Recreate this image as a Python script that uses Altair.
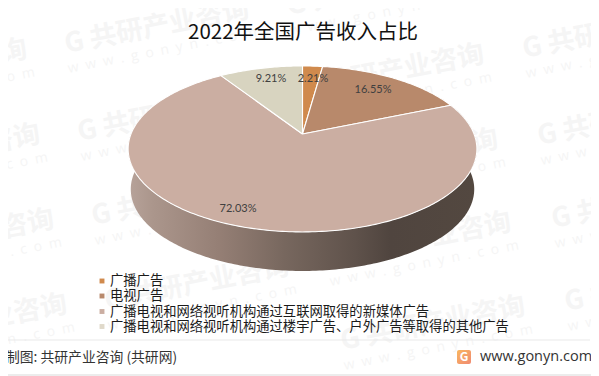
import math
import altair as alt
import pandas as pd

# ---- data ----
categories = ["广播广告", "电视广告",
              "广播电视和网络视听机构通过互联网取得的新媒体广告",
              "广播电视和网络视听机构通过楼宇广告、户外广告等取得的其他广告"]
shares = [2.21, 16.55, 72.03, 9.21]
share_labels = ["2.21%", "16.55%", "72.03%", "9.21%"]
title_text = "2022年全国广告收入占比"
source_text = "制图: 共研产业咨询 (共研网)"
site_text = "www.gonyn.com"
wm_main = "G 共研产业咨询"
wm_sub = "\u2002".join("www.gonyn.com")
slice_colors = ["#d08a4d", "#b8896b", "#cbaea2", "#d8d4c0"]
legend_colors = ["#d08a4d", "#b8896b", "#cbaea2", "#e0d9ca"]

# ---- layout (reference pixels, mapped by the x / y scales) ----
CX, CY, A, B, K = 302.5, 134.0, 171.5, 80.3, 0.18
LOW_S, LOW_CY = 0.985, 174.5
X = alt.Scale(domain=[8, 591], range=[0, 583])
Y = alt.Scale(domain=[376, 8], range=[368, 0])
x_enc = alt.X("x:Q", scale=X, axis=None)
y_enc = alt.Y("y:Q", scale=Y, axis=None)


def project(theta, s=1.0, cy=CY):
    px, py = math.sin(theta), math.cos(theta)
    d = 1 + K * py
    return CX + s * A * px / d, cy - s * B * py / d


def polygon(points):
    pts = list(points) + [points[0]]
    return pd.DataFrame({"x": [p[0] for p in pts], "y": [p[1] for p in pts],
                         "i": list(range(len(pts)))})


def filled(points, **mark):
    return alt.Chart(polygon(points)).mark_line(**mark).encode(
        x=x_enc, y=y_enc, order="i:Q")


def text_layer(rows, **mark):
    return alt.Chart(pd.DataFrame(rows)).mark_text(**mark).encode(
        x=x_enc, y=y_enc, text="t:N")


FONT = "Noto Sans CJK SC"

# watermark
wm_cols = [[(-157, 85), (-144, 170), (-130, 255), (-117, 340)],
           [(65, 45), (78, 133), (92, 217), (105, 302)],
           [(287, 7), (300, 90), (314, 175), (327, 258), (341, 342)],
           [(523, 50), (538, 137), (552, 220), (565, 303)]]
wm_rows, wm_sub_rows = [], []
for col in wm_cols:
    for gx, gy in col:
        wm_rows.append({"x": gx, "y": gy, "t": wm_main})
        wm_sub_rows.append({"x": gx + 3, "y": gy + 24, "t": wm_sub})
watermark = text_layer(wm_rows, font=FONT, fontSize=27, fontWeight="bold",
                       color="#f5f5f5", align="left", baseline="middle", angle=349)
watermark_sub = text_layer(wm_sub_rows, font="Open Sans", fontSize=14,
                           color="#f5f5f5", align="left", baseline="middle", angle=349)

# side wall
N = 240
lo, hi = math.radians(68), math.radians(292)
angles = [lo + (hi - lo) * i / N for i in range(N + 1)]
wall_pts = [project(t) for t in angles] + [project(t, LOW_S, LOW_CY) for t in reversed(angles)]
wall_fill = alt.Gradient(gradient="linear", x1=0, x2=1, y1=0, y2=0, stops=[
    alt.GradientStop(offset=0, color="#b7a39a"),
    alt.GradientStop(offset=0.07, color="#ab968c"),
    alt.GradientStop(offset=0.26, color="#957f75"),
    alt.GradientStop(offset=0.45, color="#77675e"),
    alt.GradientStop(offset=0.65, color="#5f524b"),
    alt.GradientStop(offset=0.75, color="#50453f"),
    alt.GradientStop(offset=1, color="#534840")])
wall = filled(wall_pts, fill=wall_fill, strokeWidth=0)

# top surface slices
total = sum(shares)
slices = []
start = 0.0
for val, col in zip(shares, slice_colors):
    end = start + val / total * 2 * math.pi
    n = max(4, int(val * 4))
    arc = [project(start + (end - start) * i / n) for i in range(n + 1)]
    slices.append(filled([(CX, CY)] + arc, fill=col, stroke="#ffffff", strokeWidth=1.1))
    start = end

# data labels
label_pos = [(313, 79), (373, 90), (238, 209), (271, 79)]
labels = text_layer([{"x": p[0], "y": p[1], "t": t} for p, t in zip(label_pos, share_labels)],
                    font="Lato", fontSize=11, color="#404040", align="center", baseline="middle")

# title
title = text_layer([{"x": 303, "y": 33, "t": title_text}], font=FONT, fontSize=20.5,
                   color="#111111", align="center", baseline="middle")

# legend
legend_y = [281, 296, 311.5, 326.5]
leg_df = pd.DataFrame({"x": [102] * 4, "y": legend_y, "c": categories, "col": legend_colors})
legend_marks = alt.Chart(leg_df).mark_point(shape="square", filled=True, size=24, opacity=1).encode(
    x=x_enc, y=y_enc, color=alt.Color("col:N", scale=None))
legend_text = text_layer([{"x": 110, "y": y, "t": c} for y, c in zip(legend_y, categories)],
                         font=FONT, fontSize=13.3, color="#1a1a1a", align="left", baseline="middle")

# footer
rule_df = pd.DataFrame({"x": [8, 0], "x2": [590, 599], "y": [340, 375], "col": ["#e9e9e9", "#d9d9d9"]})
rules = alt.Chart(rule_df).mark_rule(strokeWidth=1).encode(
    x=x_enc, x2="x2:Q", y=y_enc, color=alt.Color("col:N", scale=None))
source = text_layer([{"x": 6, "y": 358, "t": source_text}], font=FONT, fontSize=13.8,
                    color="#333333", align="left", baseline="middle")
site = text_layer([{"x": 480, "y": 357, "t": site_text}], font="Open Sans", fontSize=14.5,
                  color="#333333", align="left", baseline="middle")
logo_fill = alt.Gradient(gradient="linear", x1=0, x2=1, y1=0, y2=1, stops=[
    alt.GradientStop(offset=0, color="#f9b65f"),
    alt.GradientStop(offset=1, color="#f08a72")])
logo = alt.Chart(pd.DataFrame({"x": [457], "x2": [471], "y": [350], "y2": [364]})).mark_rect(
    fill=logo_fill, cornerRadius=2).encode(x=x_enc, x2="x2:Q", y=y_enc, y2="y2:Q")
logo_g = text_layer([{"x": 464, "y": 357, "t": "G"}], font=FONT, fontSize=12, fontWeight="bold",
                    color="#ffffff", align="center", baseline="middle")

chart = alt.layer(
    watermark, watermark_sub, wall, *slices, labels, title, legend_marks,
    legend_text, rules, source, site, logo, logo_g).properties(
    width=583, height=368, padding=0, background="#ffffff",
    autosize=alt.AutoSizeParams(type="none")
).configure_view(stroke=None)

chart.save("out.html", embed_options={"renderer": "svg", "actions": False})
